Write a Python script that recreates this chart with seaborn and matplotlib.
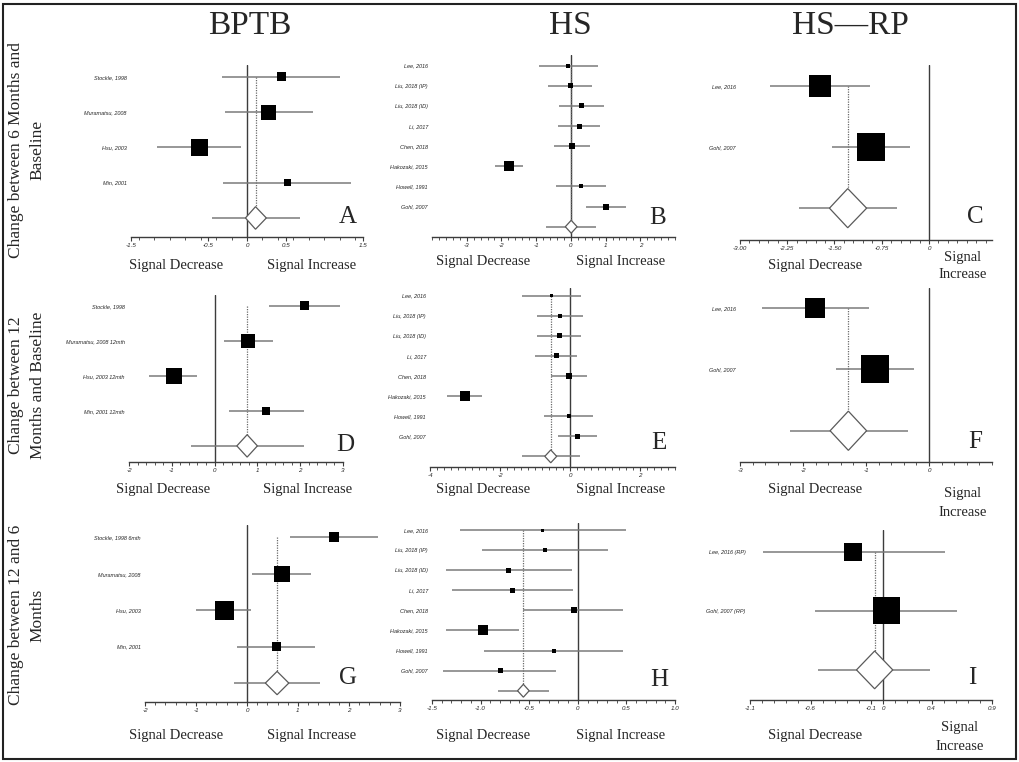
import matplotlib.pyplot as plt
import numpy as np
import pandas as pd
import seaborn as sns
from matplotlib.patches import Rectangle
from matplotlib.ticker import FixedLocator, MultipleLocator

FIG_W, FIG_H = 1020, 762
SERIF = "Liberation Serif"
SANS = "Liberation Sans"

COLUMN_TITLES = ["BPTB", "HS", "HS\u2014RP"]
ROW_TITLES = [
    "Change between 6 Months and\nBaseline",
    "Change between 12\nMonths and Baseline",
    "Change between 12 and 6\nMonths",
]

# ---- data (estimate, CI low, CI high, square size px) ----
studies_a = ["Stockle, 1998", "Muramatsu, 2008", "Hsu, 2003", "Min, 2001"]
est_a = [0.45, 0.28, -0.62, 0.52]
lo_a = [-0.32, -0.29, -1.17, -0.31]
hi_a = [1.20, 0.85, -0.08, 1.35]
wt_a = [9, 15, 17, 7]
pooled_a = [0.11, -0.02, 0.25, -0.45, 0.68]  # est, lo, hi, pred lo, pred hi

studies_hs = ["Lee, 2016", "Liu, 2018 (IP)", "Liu, 2018 (ID)", "Li, 2017",
              "Chen, 2018", "Hakozaki, 2015", "Howell, 1991", "Gohl, 2007"]
est_b = [-0.07, 0.00, 0.32, 0.24, 0.02, -1.78, 0.29, 1.01]
lo_b = [-0.93, -0.67, -0.33, -0.36, -0.49, -2.19, -0.43, 0.43]
hi_b = [0.78, 0.62, 0.95, 0.84, 0.54, -1.37, 1.00, 1.59]
wt_b = [4, 5, 5, 5, 6, 10, 4, 6]
pooled_b = [0.01, -0.16, 0.18, -0.71, 0.71]

studies_c = ["Lee, 2016", "Gohl, 2007"]
est_c = [-1.73, -0.92]
lo_c = [-2.52, -1.54]
hi_c = [-0.94, -0.30]
wt_c = [22, 28]
pooled_c = [-1.29, -1.58, -0.99, -2.06, -0.50]

studies_d = ["Stockle, 1998", "Muramatsu, 2008 12mth", "Hsu, 2003 12mth", "Min, 2001 12mth"]
est_d = [2.09, 0.79, -0.96, 1.21]
lo_d = [1.26, 0.21, -1.53, 0.34]
hi_d = [2.93, 1.36, -0.41, 2.08]
wt_d = [9, 14, 16, 8]
pooled_d = [0.76, 0.52, 1.00, -0.55, 2.08]

est_e = [-0.53, -0.28, -0.31, -0.38, -0.03, -3.00, -0.03, 0.21]
lo_e = [-1.36, -0.93, -0.95, -1.00, -0.54, -3.52, -0.74, -0.33]
hi_e = [0.31, 0.36, 0.31, 0.21, 0.49, -2.50, 0.67, 0.76]
wt_e = [3, 4, 5, 5, 6, 10, 4, 5]
pooled_e = [-0.55, -0.72, -0.38, -1.36, 0.29]

studies_f = ["Lee, 2016", "Gohl, 2007"]
est_f = [-1.81, -0.85]
lo_f = [-2.65, -1.47]
hi_f = [-0.95, -0.24]
wt_f = [20, 28]
pooled_f = [-1.28, -1.57, -0.99, -2.21, -0.34]

studies_g = ["Stockle, 1998 6mth", "Muramatsu, 2008", "Hsu, 2003", "Min, 2001"]
est_g = [1.70, 0.69, -0.45, 0.57]
lo_g = [0.85, 0.10, -1.00, -0.20]
hi_g = [2.56, 1.26, 0.07, 1.33]
wt_g = [10, 16, 19, 9]
pooled_g = [0.59, 0.36, 0.82, -0.26, 1.44]

est_h = [-0.36, -0.34, -0.71, -0.67, -0.04, -0.98, -0.25, -0.80]
lo_h = [-1.21, -0.99, -1.36, -1.29, -0.56, -1.36, -0.96, -1.39]
hi_h = [0.50, 0.31, -0.06, -0.05, 0.47, -0.61, 0.46, -0.22]
wt_h = [3, 4, 5, 5, 6, 10, 4, 5]
pooled_h = [-0.56, -0.62, -0.50, -0.82, -0.30]

studies_i = ["Lee, 2016 (RP)", "Gohl, 2007 (RP)"]
est_i = [-0.245, 0.03]
lo_i = [-0.99, -0.56]
hi_i = [0.51, 0.61]
wt_i = [18, 27]
pooled_i = [-0.07, -0.22, 0.08, -0.54, 0.39]

# ---- layout (pixels): box = left, right, top, bottom ----
PANELS = [
    dict(letter="A", studies=studies_a, est=est_a, lo=lo_a, hi=hi_a, wt=wt_a, pooled=pooled_a,
         box=(131, 363, 65, 237), xlim=(-1.5, 1.5), ylim=(4.54, -0.34),
         major=[-1.5, -0.5, 0, 0.5, 1.5], labels=["-1.5", "-0.5", "0", "0.5", "1.5"], minor=0.2,
         letter_xy=(348, 217), dec=(176, 265), inc=(312, 265), inc_split=False),
    dict(letter="B", studies=studies_hs, est=est_b, lo=lo_b, hi=hi_b, wt=wt_b, pooled=pooled_b,
         box=(432, 675, 55, 237), xlim=(-4, 3), ylim=(8.51, -0.53),
         major=[-3, -2, -1, 0, 1, 2], labels=["-3", "-2", "-1", "0", "1", "2"], minor=0.2,
         letter_xy=(658, 218), dec=(483, 262), inc=(621, 262), inc_split=False),
    dict(letter="C", studies=studies_c, est=est_c, lo=lo_c, hi=hi_c, wt=wt_c, pooled=pooled_c,
         box=(740, 992, 65, 240), xlim=(-3, 1), ylim=(2.52, -0.34),
         major=[-3, -2.25, -1.5, -0.75, 0], labels=["-3.00", "-2.25", "-1.50", "-0.75", "0"],
         minor=0.15, letter_xy=(975, 217), dec=(815, 265), inc=(963, 266), inc_split=True),
    dict(letter="D", studies=studies_d, est=est_d, lo=lo_d, hi=hi_d, wt=wt_d, pooled=pooled_d,
         box=(129, 343, 295, 462), xlim=(-2, 3), ylim=(4.46, -0.31),
         major=[-2, -1, 0, 1, 2, 3], labels=["-2", "-1", "0", "1", "2", "3"], minor=0.2,
         letter_xy=(345, 445), dec=(163, 490), inc=(308, 490), inc_split=False),
    dict(letter="E", studies=studies_hs, est=est_e, lo=lo_e, hi=hi_e, wt=wt_e, pooled=pooled_e,
         box=(430, 675, 288, 467), xlim=(-4, 3), ylim=(8.53, -0.38),
         major=[-4, -2, 0, 2], labels=["-4", "-2", "0", "2"], minor=0.2,
         letter_xy=(659, 443), dec=(483, 490), inc=(621, 490), inc_split=False),
    dict(letter="F", studies=studies_f, est=est_f, lo=lo_f, hi=hi_f, wt=wt_f, pooled=pooled_f,
         box=(740, 992, 288, 462), xlim=(-3, 1), ylim=(2.51, -0.33),
         major=[-3, -2, -1, 0], labels=["-3", "-2", "-1", "0"], minor=0.2,
         letter_xy=(975, 442), dec=(815, 490), inc=(963, 503), inc_split=True),
    dict(letter="G", studies=studies_g, est=est_g, lo=lo_g, hi=hi_g, wt=wt_g, pooled=pooled_g,
         box=(145, 400, 525, 702), xlim=(-2, 3), ylim=(4.52, -0.34),
         major=[-2, -1, 0, 1, 2, 3], labels=["-2", "-1", "0", "1", "2", "3"], minor=0.2,
         letter_xy=(348, 678), dec=(176, 735), inc=(312, 735), inc_split=False),
    dict(letter="H", studies=studies_hs, est=est_h, lo=lo_h, hi=hi_h, wt=wt_h, pooled=pooled_h,
         box=(432, 675, 523, 700), xlim=(-1.5, 1.0), ylim=(8.46, -0.35),
         major=[-1.5, -1.0, -0.5, 0, 0.5, 1.0], labels=["-1.5", "-1.0", "-0.5", "0", "0.5", "1.0"],
         minor=0.1, letter_xy=(659, 680), dec=(483, 735), inc=(621, 735), inc_split=False),
    dict(letter="I", studies=studies_i, est=est_i, lo=lo_i, hi=hi_i, wt=wt_i, pooled=pooled_i,
         box=(750, 992, 530, 700), xlim=(-1.1, 0.9), ylim=(2.51, -0.37),
         major=[-1.1, -0.6, -0.1, 0, 0.4, 0.9], labels=["-1.1", "-0.6", "-0.1", "0", "0.4", "0.9"],
         minor=0.1, letter_xy=(972, 678), dec=(815, 735), inc=(960, 737), inc_split=True),
]

CI_COLOR = "#7a7a7a"
AXIS_COLOR = "#3c3c3c"
DIAMOND_HALF = 0.32


def fx(x):
    return x / FIG_W


def fy(y):
    return 1 - y / FIG_H


def draw_panel(fig, spec):
    left, right, top, bottom = spec["box"]
    ax = fig.add_axes([fx(left), fy(bottom), fx(right - left), (bottom - top) / FIG_H])
    n = len(spec["studies"])
    rows = np.arange(n)
    df = pd.DataFrame({"est": spec["est"], "row": rows,
                       "area": (np.asarray(spec["wt"]) * 0.72) ** 2})

    ax.hlines(rows, spec["lo"], spec["hi"], color=CI_COLOR, lw=1.1, zorder=2)
    sns.scatterplot(data=df, x="est", y="row", marker="s", color="black",
                    s=df["area"].to_numpy(), linewidth=0, ax=ax, zorder=3, legend=False)

    est, lo, hi, plo, phi = spec["pooled"]
    ax.axvline(0, color=AXIS_COLOR, lw=1.0, zorder=1)
    ax.vlines(est, 0, n - DIAMOND_HALF, color="#6a6a6a", lw=0.9, linestyles=(0, (1, 1)), zorder=1)
    ax.hlines(n, plo, phi, color=CI_COLOR, lw=1.1, zorder=2)
    ax.fill([lo, est, hi, est], [n, n - DIAMOND_HALF, n, n + DIAMOND_HALF],
            facecolor="white", edgecolor="#5a5a5a", lw=0.9, zorder=3)

    ax.set_xlim(*spec["xlim"])
    ax.set_ylim(*spec["ylim"])
    ax.set_facecolor("none")
    for side in ["top", "right", "left"]:
        ax.spines[side].set_visible(False)
    ax.spines["bottom"].set_color(AXIS_COLOR)
    ax.spines["bottom"].set_linewidth(1.0)

    ax.xaxis.set_major_locator(FixedLocator(spec["major"]))
    ax.set_xticklabels(spec["labels"], fontsize=4.5, style="italic", family=SANS)
    ax.xaxis.set_minor_locator(MultipleLocator(spec["minor"]))
    ax.tick_params(axis="x", which="major", direction="out", length=3, width=0.8,
                   color=AXIS_COLOR, pad=1.5, bottom=True)
    ax.tick_params(axis="x", which="minor", direction="out", length=2, width=0.6,
                   color=AXIS_COLOR, bottom=True)
    ax.set_yticks(rows)
    ax.set_yticklabels(spec["studies"], fontsize=4, style="italic", family=SANS)
    ax.tick_params(axis="y", length=0, pad=3)
    ax.set_xlabel("")
    ax.set_ylabel("")

    lx, ly = spec["letter_xy"]
    fig.text(fx(lx), fy(ly), spec["letter"], fontsize=18, family=SERIF, ha="center", va="center")
    fig.text(fx(spec["dec"][0]), fy(spec["dec"][1]), "Signal Decrease", fontsize=10.5,
             family=SERIF, ha="center", va="center")
    inc_text = "Signal\nIncrease" if spec["inc_split"] else "Signal Increase"
    fig.text(fx(spec["inc"][0]), fy(spec["inc"][1]), inc_text, fontsize=10.5, family=SERIF,
             ha="center", va="center", linespacing=1.5)


def main():
    sns.set_theme(style="white")
    fig = plt.figure(figsize=(FIG_W / 100, FIG_H / 100), dpi=100)
    fig.patch.set_facecolor("white")

    for spec in PANELS:
        draw_panel(fig, spec)

    for title, x in zip(COLUMN_TITLES, [250, 570, 850]):
        fig.text(fx(x), fy(26), title, fontsize=24, family=SERIF, ha="center", va="center")
    for title, y in zip(ROW_TITLES, [150, 385, 615]):
        fig.text(fx(27), fy(y), title, fontsize=12.5, family=SERIF, ha="center", va="center",
                 rotation=90, multialignment="center", linespacing=1.45)

    fig.add_artist(Rectangle((fx(3), fy(759)), fx(1013), 755 / FIG_H, transform=fig.transFigure,
                             fill=False, edgecolor="#222222", lw=1.5))
    fig.savefig("out.png", dpi=100)
    plt.close(fig)


if __name__ == "__main__":
    main()
